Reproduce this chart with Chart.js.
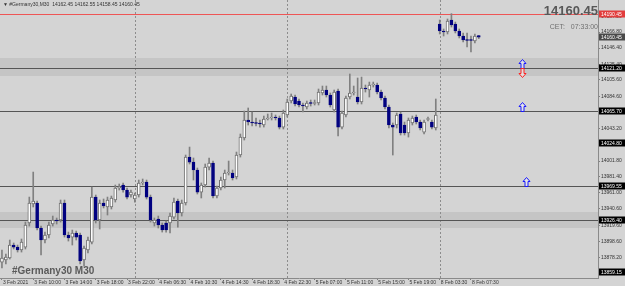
<!DOCTYPE html>
<html>
<head>
<meta charset="utf-8">
<script src="https://cdn.jsdelivr.net/npm/chart.js@4/dist/chart.umd.min.js"></script>
<style>
  html, body { margin: 0; padding: 0; background: #d4d4d4; }
  #wrap { width: 625px; height: 286px; position: relative; }
</style>
</head>
<body>
<div id="wrap"><canvas id="myChart"></canvas></div>
<script>
// #Germany30 M30 candles
const opens = [
  13872.5, 13875.1, 13877.7, 13894.3, 13891.7, 13887.9, 13891.7, 13922.5, 13946.8, 13948.1,
  13916.1, 13900.7, 13907.1, 13921.2, 13926.3, 13926.3, 13948.1, 13907.1, 13904.5, 13909.7,
  13907.1, 13875.1, 13887.9, 13898.1, 13955.7, 13926.3, 13948.1, 13943.0, 13943.0, 13951.9,
  13967.3, 13971.1, 13964.7, 13958.3, 13953.2, 13958.3, 13973.7, 13975.0, 13955.7, 13922.5,
  13927.6, 13919.9, 13922.5, 13922.5, 13930.1, 13950.6, 13935.3, 13948.1, 14006.9, 14000.5,
  13990.3, 13962.1, 13971.1, 13994.1, 13999.3, 13957.0, 13967.3, 13977.5, 13986.5, 13986.5,
  13981.4, 14009.5, 14031.3, 14054.3, 14051.7, 14050.5, 14050.5, 14047.9, 14055.6, 14056.9,
  14058.1, 14056.9, 14045.3, 14060.7, 14078.6, 14083.7, 14078.6, 14073.5, 14070.9, 14076.1,
  14075.4, 14076.1, 14088.9, 14092.7, 14086.3, 14067.1, 14091.4, 14045.3, 14060.7, 14083.7,
  14088.9, 14083.7, 14077.3, 14095.3, 14092.7, 14099.1, 14099.1, 14090.1, 14082.5, 14070.9,
  14047.9, 14047.9, 14062.0, 14047.9, 14037.7, 14050.5, 14058.1, 14051.7, 14038.9, 14054.9,
  14051.7, 14044.1, 14177.2, 14168.2, 14166.9, 14182.3, 14177.2, 14168.2, 14161.8, 14156.7,
  14156.7, 14155.4, 14162.45
];
const highs = [
  13887.9, 13882.8, 13900.7, 13896.9, 13894.3, 13902.0, 13923.7, 13955.7, 13987.7, 13950.6,
  13918.6, 13910.9, 13923.7, 13931.4, 13928.9, 13951.9, 13951.9, 13910.9, 13913.5, 13912.2,
  13909.7, 13893.1, 13904.5, 13968.5, 13958.3, 13951.9, 13953.2, 13955.7, 13957.0, 13971.1,
  13972.4, 13973.7, 13967.3, 13964.7, 13960.9, 13977.5, 13978.8, 13977.5, 13958.3, 13928.9,
  13931.4, 13922.5, 13925.0, 13935.3, 13954.5, 13953.2, 13951.9, 14009.5, 14019.7, 14005.7,
  13992.9, 13973.7, 13998.0, 14005.7, 14001.8, 13969.8, 13981.4, 13990.3, 14001.8, 13990.3,
  14013.3, 14036.4, 14065.8, 14069.7, 14064.5, 14056.9, 14054.3, 14059.4, 14062.0, 14063.3,
  14060.7, 14059.4, 14067.1, 14081.2, 14087.6, 14086.3, 14081.2, 14076.1, 14078.6, 14079.9,
  14079.9, 14094.0, 14097.8, 14097.8, 14088.9, 14092.7, 14094.0, 14065.8, 14085.0, 14113.2,
  14097.8, 14108.1, 14109.3, 14099.1, 14102.9, 14102.9, 14101.7, 14092.7, 14085.0, 14073.5,
  14050.5, 14063.3, 14064.5, 14051.7, 14056.9, 14059.4, 14060.7, 14054.3, 14054.3, 14058.1,
  14054.3, 14081.2, 14182.3, 14170.8, 14183.6, 14190.45, 14179.7, 14170.8, 14165.7, 14165.7,
  14161.8, 14164.4, 14162.55
];
const lows = [
  13864.9, 13870.0, 13876.4, 13889.2, 13885.3, 13885.3, 13889.2, 13918.6, 13943.0, 13913.5,
  13881.5, 13896.9, 13903.3, 13918.6, 13921.2, 13923.7, 13904.5, 13899.4, 13894.3, 13900.7,
  13870.0, 13867.4, 13884.1, 13895.6, 13922.5, 13914.8, 13941.7, 13932.7, 13940.4, 13949.3,
  13964.7, 13962.1, 13953.2, 13955.7, 13949.3, 13955.7, 13971.1, 13953.2, 13923.7, 13918.6,
  13916.1, 13910.9, 13910.9, 13909.7, 13927.6, 13917.3, 13931.4, 13945.5, 13998.0, 13977.5,
  13959.6, 13954.5, 13968.5, 13990.3, 13954.5, 13954.5, 13964.7, 13967.3, 13983.9, 13977.5,
  13978.8, 14006.9, 14028.7, 14047.9, 14046.6, 14046.6, 14045.3, 14045.3, 14054.3, 14054.3,
  14054.3, 14042.8, 14042.8, 14058.1, 14076.1, 14072.2, 14070.9, 14064.5, 14068.4, 14072.2,
  14073.5, 14073.5, 14086.3, 14083.7, 14070.9, 14064.5, 14033.8, 14042.8, 14058.1, 14081.2,
  14086.3, 14074.8, 14074.8, 14090.1, 14083.7, 14096.5, 14087.6, 14079.9, 14068.4, 14044.1,
  14009.5, 14044.1, 14035.1, 14035.1, 14032.5, 14047.9, 14049.2, 14041.5, 14036.4, 14053.0,
  14042.8, 14041.5, 14164.4, 14161.8, 14164.4, 14173.3, 14165.7, 14159.3, 14154.1, 14147.7,
  14141.3, 14152.9, 14158.45
];
const closes = [
  13877.7, 13878.9, 13894.3, 13891.7, 13887.9, 13898.1, 13919.9, 13948.1, 13950.6, 13916.1,
  13900.7, 13907.1, 13919.9, 13926.3, 13925.0, 13948.1, 13907.1, 13903.3, 13909.7, 13904.5,
  13873.8, 13890.5, 13900.7, 13955.7, 13926.3, 13948.1, 13944.3, 13951.9, 13954.5, 13967.3,
  13968.5, 13964.7, 13955.7, 13962.1, 13958.3, 13973.7, 13975.0, 13955.7, 13926.3, 13926.3,
  13919.9, 13913.5, 13913.5, 13931.4, 13949.3, 13935.3, 13948.1, 14006.9, 14000.5, 13990.3,
  13962.1, 13971.1, 13994.1, 13999.3, 13957.0, 13967.3, 13977.5, 13986.5, 13987.7, 13980.1,
  14009.5, 14032.5, 14054.3, 14051.7, 14050.5, 14049.8, 14049.2, 14055.6, 14056.9, 14058.1,
  14056.9, 14045.3, 14063.3, 14077.3, 14085.0, 14074.8, 14073.5, 14072.2, 14076.1, 14075.4,
  14076.7, 14090.1, 14092.7, 14086.3, 14073.5, 14090.1, 14045.3, 14063.3, 14082.5, 14088.9,
  14090.1, 14077.3, 14095.3, 14094.0, 14099.1, 14100.4, 14090.1, 14082.5, 14070.9, 14047.9,
  14045.3, 14060.7, 14037.7, 14037.7, 14054.3, 14056.9, 14051.7, 14044.1, 14051.7, 14055.6,
  14045.3, 14060.7, 14168.2, 14166.9, 14181.0, 14175.9, 14168.2, 14161.8, 14156.7, 14156.1,
  14156.1, 14161.8, 14160.45
];

// time axis: one label every 8 bars
const timeLabels = [
  "3 Feb 2021", "3 Feb 10:00", "3 Feb 14:00", "3 Feb 18:00", "3 Feb 22:00", "4 Feb 06:30",
  "4 Feb 10:30", "4 Feb 14:30", "4 Feb 18:30", "4 Feb 22:30", "5 Feb 07:00", "5 Feb 11:00",
  "5 Feb 15:00", "5 Feb 19:00", "8 Feb 03:30", "8 Feb 07:30"
];
const labelEvery = 8;
const slots = 153; // bars + empty space on the right

// price scale
const priceTicks = [14187.20, 14166.80, 14146.40, 14125.40, 14105.60, 14084.60, 14064.20, 14043.20,
  14022.80, 14001.80, 13981.40, 13961.00, 13940.60, 13919.60, 13898.60, 13878.20];
const priceMin = 13852.1;
const priceMax = 14207.9;

// drawn objects
const levels = [14121.20, 14065.70, 13969.55, 13926.40];
const levelTags = [14121.20, 14065.70, 14024.80, 13969.55, 13926.40, 13859.15];
const zoneTops = [14133.7, 13936.5];
const zoneBottoms = [14110.6, 13916.1];
const highLine = 14190.45;
const dayStarts = [34, 73, 112];
const arrowBars = [133, 133, 133, 134];
const arrowPrices = [14121.20, 14121.20, 14065.70, 13969.55];
const arrowDirs = ["up", "down", "up", "up"];

const labels = Array.from({ length: slots }, (_, i) => i);
const last = closes.length - 1;

function drawArrow(ctx, x, base, dir, color) {
  const s = dir === "up" ? -1 : 1;
  const tip = base + s * 9, neck = tip - s * 4;
  ctx.beginPath();
  ctx.moveTo(x, tip);
  ctx.lineTo(x + 3.5, neck);
  ctx.lineTo(x + 1.5, neck);
  ctx.lineTo(x + 1.5, base);
  ctx.lineTo(x - 1.5, base);
  ctx.lineTo(x - 1.5, neck);
  ctx.lineTo(x - 3.5, neck);
  ctx.closePath();
  ctx.fillStyle = "rgba(240,240,240,0.6)";
  ctx.fill();
  ctx.strokeStyle = color;
  ctx.lineWidth = 1;
  ctx.stroke();
}

function tag(ctx, yScale, value, bg, fg) {
  const py = Math.round(yScale.getPixelForValue(value));
  ctx.fillStyle = bg;
  ctx.fillRect(yScale.left + 1, py - 3.5, 27, 7);
  ctx.fillStyle = fg;
  ctx.font = "5px 'Liberation Sans', Arial, sans-serif";
  ctx.textAlign = "left";
  ctx.textBaseline = "middle";
  ctx.fillText(value.toFixed(2), yScale.left + 3, py + 0.5);
}

const mtPlugin = {
  id: "mt",
  beforeDraw(chart) {
    const { ctx, width, height } = chart;
    ctx.save();
    ctx.fillStyle = "#d4d4d4";
    ctx.fillRect(0, 0, width, height);
    ctx.restore();
  },
  beforeDatasetsDraw(chart) {
    const { ctx, chartArea: a, scales: { x, y } } = chart;
    ctx.save();
    ctx.fillStyle = "#c5c5c5";
    zoneTops.forEach((t, i) => {
      const top = y.getPixelForValue(t), bot = y.getPixelForValue(zoneBottoms[i]);
      ctx.fillRect(a.left, top, a.right - a.left, bot - top);
    });
    ctx.lineWidth = 1;
    ctx.strokeStyle = "#8c8c8c";
    ctx.setLineDash([2, 2]);
    dayStarts.forEach(i => {
      const px = Math.round(x.getPixelForValue(i)) + 0.5;
      ctx.beginPath(); ctx.moveTo(px, a.top); ctx.lineTo(px, a.bottom); ctx.stroke();
    });
    ctx.setLineDash([]);
    ctx.strokeStyle = "#555555";
    levels.forEach(v => {
      const py = Math.round(y.getPixelForValue(v)) + 0.5;
      ctx.beginPath(); ctx.moveTo(a.left, py); ctx.lineTo(a.right, py); ctx.stroke();
    });
    ctx.strokeStyle = "#ee5555";
    const hy = Math.round(y.getPixelForValue(highLine)) + 0.5;
    ctx.beginPath(); ctx.moveTo(a.left, hy); ctx.lineTo(a.right, hy); ctx.stroke();

    // chart name watermark
    ctx.font = "bold 10px 'Liberation Sans', Arial, sans-serif";
    ctx.fillStyle = "#5a5a5a";
    ctx.textAlign = "left";
    ctx.textBaseline = "alphabetic";
    ctx.fillText("#Germany30 M30", a.left + 12, a.bottom - 4);
    ctx.restore();
  },
  afterDraw(chart) {
    const { ctx, chartArea: a, scales: { x, y } } = chart;
    ctx.save();
    arrowBars.forEach((b, i) => {
      drawArrow(ctx, Math.round(x.getPixelForValue(b)) + 0.5, Math.round(y.getPixelForValue(arrowPrices[i])) + 0.5,
        arrowDirs[i], arrowDirs[i] === "up" ? "#1a1aff" : "#ff2020");
    });
    levelTags.forEach(v => tag(ctx, y, v, "#000000", "#ffffff"));
    tag(ctx, y, highLine, "#e23c3c", "#ffffff");
    tag(ctx, y, closes[last], "#4a4a4a", "#ffffff");

    ctx.textBaseline = "middle";
    ctx.textAlign = "left";
    ctx.fillStyle = "#333333";
    ctx.font = "5px 'Liberation Sans', Arial, sans-serif";
    ctx.fillText("\u25BC #Germany30,M30  " + [opens[last], highs[last], lows[last], closes[last]].map(v => v.toFixed(2)).join(" "), 3, 5);

    ctx.textAlign = "right";
    ctx.fillStyle = "#585858";
    ctx.font = "bold 13px 'Liberation Sans', Arial, sans-serif";
    ctx.fillText(closes[last].toFixed(2), a.right, 11);
    ctx.font = "7px 'Liberation Sans', Arial, sans-serif";
    ctx.fillStyle = "#707070";
    ctx.fillText("CET:   07:33:00", a.right, 27);
    ctx.restore();
  }
};

const ctx = document.getElementById("myChart").getContext("2d");

const data = {
  labels,
  datasets: [
    {
      label: "body",
      data: opens.map((o, i) => [Math.min(o, closes[i]), Math.max(o, closes[i])]),
      backgroundColor: opens.map((o, i) => closes[i] >= o ? "#ffffff" : "#000080"),
      borderColor: opens.map((o, i) => closes[i] >= o ? "#707070" : "#000080"),
      borderWidth: 1,
      borderSkipped: false,
      barThickness: 3,
      minBarLength: 1,
      grouped: false,
      order: 0,
    },
    {
      label: "wick",
      data: lows.map((l, i) => [l, highs[i]]),
      backgroundColor: "#808080",
      borderWidth: 0,
      barThickness: 1,
      grouped: false,
      order: 1,
    },
  ],
};

const config = {
  type: "bar",
  data: data,
  options: {
    responsive: true,
    maintainAspectRatio: false,
    animation: false,
    layout: { padding: 0 },
    plugins: { legend: { display: false }, tooltip: { enabled: false } },
    scales: {
      x: {
        offset: true,
        grid: { display: true, drawOnChartArea: false, tickLength: 2, offset: false,
          tickColor: c => c.index % labelEvery === 0 && c.index / labelEvery < timeLabels.length ? "#808080" : "rgba(0,0,0,0)" },
        border: { color: "#8a8a8a" },
        ticks: {
          autoSkip: false, maxRotation: 0, minRotation: 0, align: "start", padding: 0, labelOffset: 1,
          color: "#333333", font: { family: "'Liberation Sans', Arial, sans-serif", size: 5 },
          callback: (v, i) => i % labelEvery === 0 ? (timeLabels[i / labelEvery] || "") : "",
        },
        afterFit: s => { s.height = 8; s.paddingLeft = 0; s.paddingRight = 0; },
      },
      y: {
        position: "right",
        min: priceMin,
        max: priceMax,
        grid: { drawOnChartArea: false, tickLength: 2, color: "#808080" },
        border: { color: "#8a8a8a" },
        ticks: {
          padding: 1, color: "#333333",
          font: { family: "'Liberation Sans', Arial, sans-serif", size: 5 },
          callback: v => v.toFixed(2),
        },
        afterBuildTicks: s => { s.ticks = priceTicks.map(v => ({ value: v })); },
        afterFit: s => { s.width = 27; s.paddingTop = 0; s.paddingBottom = 0; },
      },
    },
  },
  plugins: [mtPlugin],
};

const myChart = new Chart(ctx, config);
</script>
</body>
</html>
